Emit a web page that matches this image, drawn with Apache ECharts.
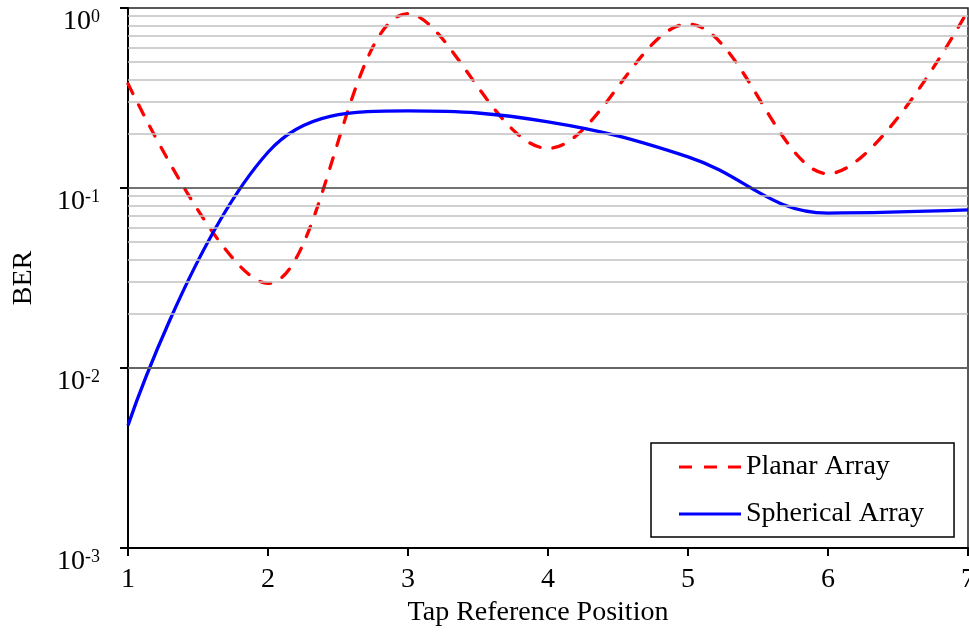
<!DOCTYPE html>
<html>
<head>
<meta charset="utf-8">
<script src="https://cdn.jsdelivr.net/npm/echarts@6/dist/echarts.min.js"></script>
<style>
html,body{margin:0;padding:0;background:#fff;}
#chart{width:969px;height:634px;}
</style>
</head>
<body>
<div id="chart"></div>
<script>
// Data
var tapPositions = [1, 2, 3, 4, 5, 6, 7];
var planarBER = [0.38, 0.0295, 0.93, 0.166, 0.815, 0.12, 0.97];
var sphericalBER = [0.0048, 0.158, 0.268, 0.233, 0.149, 0.0726, 0.0755];
var minorGridValues = [
  0.002, 0.003, 0.004, 0.005, 0.006, 0.007, 0.008, 0.009,
  0.02, 0.03, 0.04, 0.05, 0.06, 0.07, 0.08, 0.09,
  0.2, 0.3, 0.4, 0.5, 0.6, 0.7, 0.8, 0.9
];
var majorGridValues = [0.01, 0.1];
var seriesNames = ['Planar Array', 'Spherical Array'];

function pairs(xs, ys) {
  return xs.map(function (x, i) { return [x, ys[i]]; });
}

var FONT = '"Liberation Serif", "Times New Roman", serif';
var dashIcon = 'path://M0,0h13v3h-13z M25,0h13v3h-13z M49,0h13v3h-13z';
var solidIcon = 'path://M0,0h62v3h-62z';

var chart = echarts.init(document.getElementById('chart'), null, { renderer: 'canvas' });
chart.setOption({
  animation: false,
  backgroundColor: '#ffffff',
  textStyle: { fontFamily: FONT, color: '#000' },
  grid: {
    left: 128, right: 1, top: 8, bottom: 86,
    outerBoundsMode: 'none',
    containLabel: false,
    show: true, borderColor: '#222', borderWidth: 1.5, backgroundColor: 'transparent'
  },
  legend: {
    orient: 'vertical',
    left: 651, top: 443,
    backgroundColor: '#fff',
    borderColor: '#000', borderWidth: 1.5,
    padding: [10, 30, 9, 28],
    itemWidth: 62, itemHeight: 3, itemGap: 19,
    itemTextGap: 6,
    selectedMode: false,
    textStyle: { fontFamily: FONT, fontSize: 28, color: '#000', lineHeight: 28 },
    data: [
      { name: seriesNames[0], icon: dashIcon },
      { name: seriesNames[1], icon: solidIcon }
    ]
  },
  xAxis: {
    type: 'value',
    min: 1, max: 7, interval: 1,
    name: 'Tap Reference Position',
    nameLocation: 'middle',
    nameGap: 50,
    nameTextStyle: { fontFamily: FONT, fontSize: 28, color: '#000', padding: [0, 20, 0, 0] },
    axisLine: { show: true, onZero: false, lineStyle: { color: '#000', width: 2 } },
    axisTick: { show: true, inside: false, length: 8, lineStyle: { color: '#000', width: 2 } },
    axisLabel: { fontFamily: FONT, fontSize: 28, color: '#000', margin: 18, showMaxLabel: true, showMinLabel: true, hideOverlap: false },
    splitLine: { show: false }
  },
  yAxis: {
    type: 'log',
    logBase: 10,
    min: 0.001, max: 1,
    name: 'BER',
    nameLocation: 'middle',
    nameGap: 90,
    nameRotate: 90,
    nameTextStyle: { fontFamily: FONT, fontSize: 28, color: '#000' },
    axisLine: { show: true, lineStyle: { color: '#000', width: 2 } },
    axisTick: { show: true, inside: false, length: 8, lineStyle: { color: '#000', width: 2 } },
    splitLine: { show: false },
    axisLabel: {
      margin: 28,
      verticalAlign: 'top',
      formatter: function (v) {
        var e = Math.round(Math.log10(v));
        return '{b|10}{s|' + e + '}';
      },
      rich: {
        b: { fontFamily: FONT, fontSize: 28, color: '#000', lineHeight: 28, verticalAlign: 'bottom' },
        s: { fontFamily: FONT, fontSize: 18, color: '#000', lineHeight: 18, verticalAlign: 'top' }
      }
    }
  },
  series: [
    {
      name: '_minorGrid',
      type: 'line',
      data: [],
      silent: true,
      z: 1,
      markLine: {
        silent: true,
        symbol: ['none', 'none'],
        label: { show: false },
        lineStyle: { color: '#c0c0c0', width: 1.5, type: 'solid' },
        emphasis: { disabled: true },
        data: minorGridValues.map(function (v) { return { yAxis: v }; })
      }
    },
    {
      name: '_majorGrid',
      type: 'line',
      data: [],
      silent: true,
      z: 2,
      markLine: {
        silent: true,
        symbol: ['none', 'none'],
        label: { show: false },
        lineStyle: { color: '#444', width: 1.6, type: 'solid' },
        emphasis: { disabled: true },
        data: majorGridValues.map(function (v) { return { yAxis: v }; })
      }
    },
    {
      name: seriesNames[0],
      type: 'line',
      data: pairs(tapPositions, planarBER),
      smooth: 0.35,
      symbol: 'none',
      showSymbol: false,
      z: 3,
      color: '#ff0000',
      lineStyle: { color: '#ff0000', width: 3.3, type: [11, 13], cap: 'round' }
    },
    {
      name: seriesNames[1],
      type: 'line',
      data: pairs(tapPositions, sphericalBER),
      smooth: 0.4,
      symbol: 'none',
      showSymbol: false,
      z: 4,
      color: '#0000ff',
      lineStyle: { color: '#0000ff', width: 3.3, type: 'solid' }
    }
  ]
});
</script>
</body>
</html>
